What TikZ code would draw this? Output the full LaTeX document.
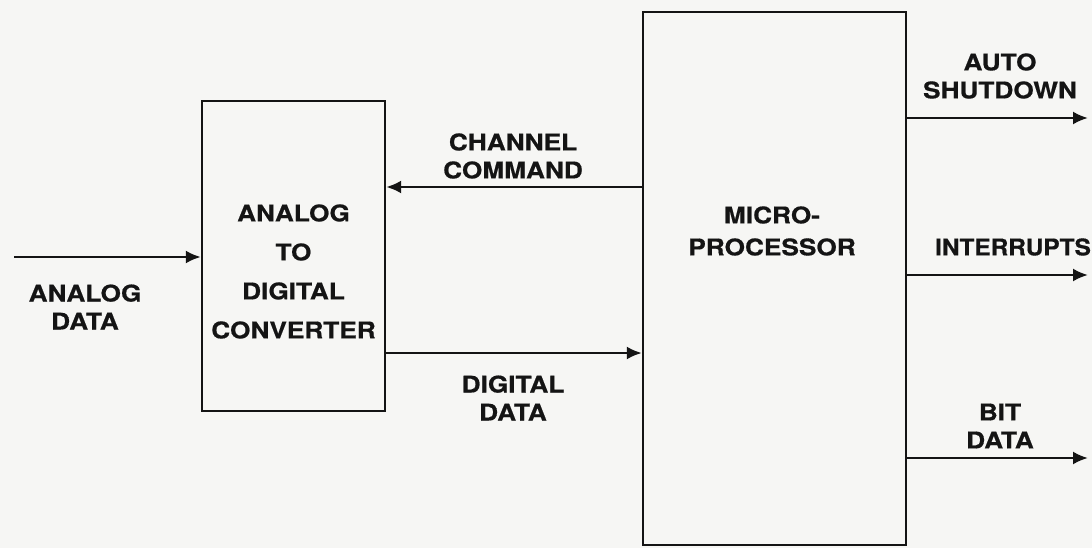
\documentclass[tikz,border=0pt]{standalone}
\usepackage{fontspec}
\setmainfont{TeX Gyre Heros}[FakeStretch=1.14,FakeBold=0.6]
\newfontfamily\narrowfont{TeX Gyre Heros}[FakeStretch=1.06,FakeBold=0.6]
\usetikzlibrary{arrows.meta,positioning,calc}
\definecolor{paper}{RGB}{246,246,244}
\definecolor{ink}{RGB}{20,20,20}

\begin{document}
\begin{tikzpicture}[x=1pt,y=-1pt,every node/.style={font=\bfseries\fontsize{23}{28}\selectfont,align=center,inner sep=0pt,text=ink},
  blk/.style={draw=ink,line width=2.4pt},
  sig/.style={draw=ink,line width=2.4pt,-{Latex[length=15pt,width=13pt]}}]
\fill[paper] (0,0) rectangle (1092,548);
\useasboundingbox (0,0) rectangle (1092,548);
% blocks
\node[blk,minimum width=183pt,minimum height=310pt] (adc) at (293.5,256) {};
\node[blk,minimum width=263pt,minimum height=533pt] (micro) at (774.5,278.5) {};
\node[font=\bfseries\fontsize{23}{39}\selectfont] (adctext) at (293.5,271.5) {ANALOG\\TO\\DIGITAL\\CONVERTER};
\node[font=\bfseries\fontsize{23}{32}\selectfont] (microtext) at (772,231) {MICRO-\\PROCESSOR};
% signals
\coordinate (src) at (14,257);
\draw[sig] (src) -- (src -| adc.west);
\draw[sig] (micro.west |- 0,187) -- (adc.east |- 0,187);
\draw[sig] (adc.east |- 0,353) -- (micro.west |- 0,353);
\foreach \yy/\nm in {118/autoout, 275/introut, 458/bitout} {
  \coordinate (\nm) at (1088,\yy);
  \draw[sig] (micro.east |- \nm) -- (\nm);
}
\node (analoglbl) at (85,307) {ANALOG\\DATA};
\node (chanlbl) at (513,156) {CHANNEL\\COMMAND};
\node (diglbl) at (513,398) {DIGITAL\\DATA};
\node (autolbl) at (1000,76) {AUTO\\SHUTDOWN};
\node[font=\narrowfont\bfseries\fontsize{23}{28}\selectfont] (intrlbl) at (1013,247) {INTERRUPTS};
\node (bitlbl) at (1000,426) {BIT\\DATA};
\end{tikzpicture}
\end{document}
